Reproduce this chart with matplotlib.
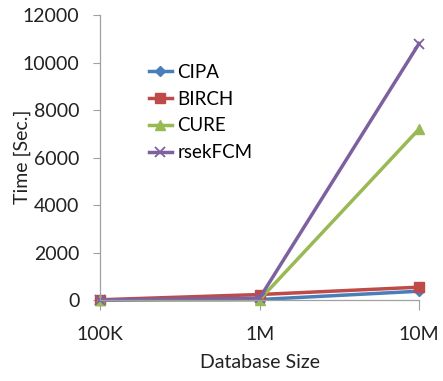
import matplotlib
matplotlib.use("Agg")
import matplotlib.pyplot as plt

categories = ["100K", "1M", "10M"]
cipa = [5, 20, 370]
birch = [10, 230, 540]
cure = [0, 10, 7200]
rsekfcm = [0, 80, 10800]

plt.rcParams['font.family'] = ['Lato', 'DejaVu Sans']

fig = plt.figure(figsize=(4.43, 3.81), dpi=100)
ax = fig.add_axes([0.226, 0.2126, 0.72, 0.748])

x = list(range(len(categories)))
ax.plot(x, cipa, color="#4a7ebb", marker="D", markersize=5, lw=2.5, label="CIPA", clip_on=False)
ax.plot(x, birch, color="#be4b48", marker="s", markersize=7, lw=2.5, label="BIRCH", clip_on=False)
ax.plot(x, cure, color="#98b954", marker="^", markersize=7, lw=2.5, label="CURE", clip_on=False)
ax.plot(x, rsekfcm, color="#7d60a0", marker="x", markersize=7, mew=1.3, lw=2.5, label="rsekFCM", clip_on=False)

ax.set_xlim(0, 2)
ax.set_ylim(0, 12000)
ax.set_yticks(range(0, 12001, 2000))
ax.set_xticks(x)
ax.set_xticklabels(categories)
for s in ["top", "right"]:
    ax.spines[s].set_visible(False)
for s in ["left", "bottom"]:
    ax.spines[s].set_color("#a0a0a0")
    ax.spines[s].set_linewidth(0.9)
ax.tick_params(axis="y", colors="#a0a0a0", labelcolor="#222222", labelsize=14, length=5, pad=10)
ax.tick_params(axis="x", colors="#a0a0a0", labelcolor="#222222", labelsize=14, length=7, pad=12)
ax.set_xlabel("Database Size", fontsize=14, color="#222222", labelpad=8)
fig.text(22 / 443, 1 - 157 / 381, "Time [Sec.]", rotation=90, ha="center", va="center",
         fontsize=14, color="#222222")

leg = ax.legend(loc="upper left", bbox_to_anchor=(0.13, 0.855), frameon=False, fontsize=13.5,
                handlelength=1.2, handletextpad=0.3, labelspacing=0.52, borderaxespad=0)

fig.savefig("out.png", dpi=100)
